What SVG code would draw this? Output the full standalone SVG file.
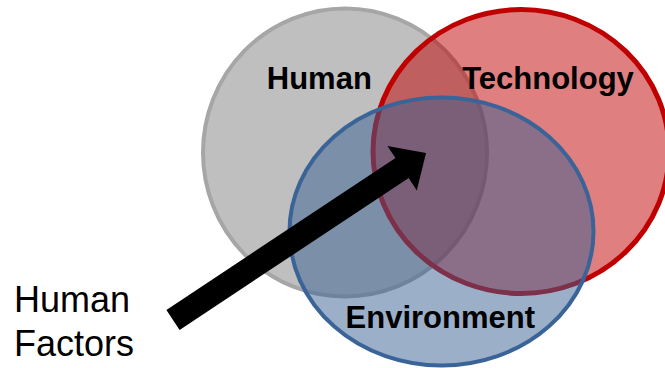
<svg xmlns="http://www.w3.org/2000/svg" width="665" height="368" viewBox="0 0 665 368">
<style>
.lbl{font-family:"Liberation Sans",Arial,sans-serif;font-weight:bold;font-size:31px;fill:#000;text-anchor:middle}
.side{font-family:"Liberation Sans",Arial,sans-serif;font-size:36px;fill:#000}
</style>
<rect width="665" height="368" fill="#fff"/>
<g id="human">
<ellipse cx="345" cy="152.5" rx="142" ry="144" fill="#7f7f7f" fill-opacity="0.5" stroke="#a6a6a6" stroke-width="4"/>
</g>
<g id="technology">
<ellipse cx="521" cy="151.5" rx="148" ry="142" fill="#c00000" fill-opacity="0.5" stroke="#c00000" stroke-width="5"/>
</g>
<g id="environment">
<ellipse cx="441.5" cy="231.5" rx="152" ry="134" fill="#376092" fill-opacity="0.5" stroke="#3a6498" stroke-width="4"/>
</g>
<g id="labels">
<text class="lbl" x="319.3" y="89.3">Human</text>
<text class="lbl" x="548" y="89">Technology</text>
<text class="lbl" x="440.3" y="328.3">Environment</text>
</g>
<g id="human-factors">
<text class="side" x="14" y="311.7">Human</text>
<text class="side" x="14" y="356">Factors</text>
</g>
<g id="connectors">
<path d="M166.4,310 L395.5,157.9 L387.4,145.9 L426,153 L416.8,190.5 L408.7,177.9 L179.6,330 Z" fill="#000"/>
</g>
</svg>
